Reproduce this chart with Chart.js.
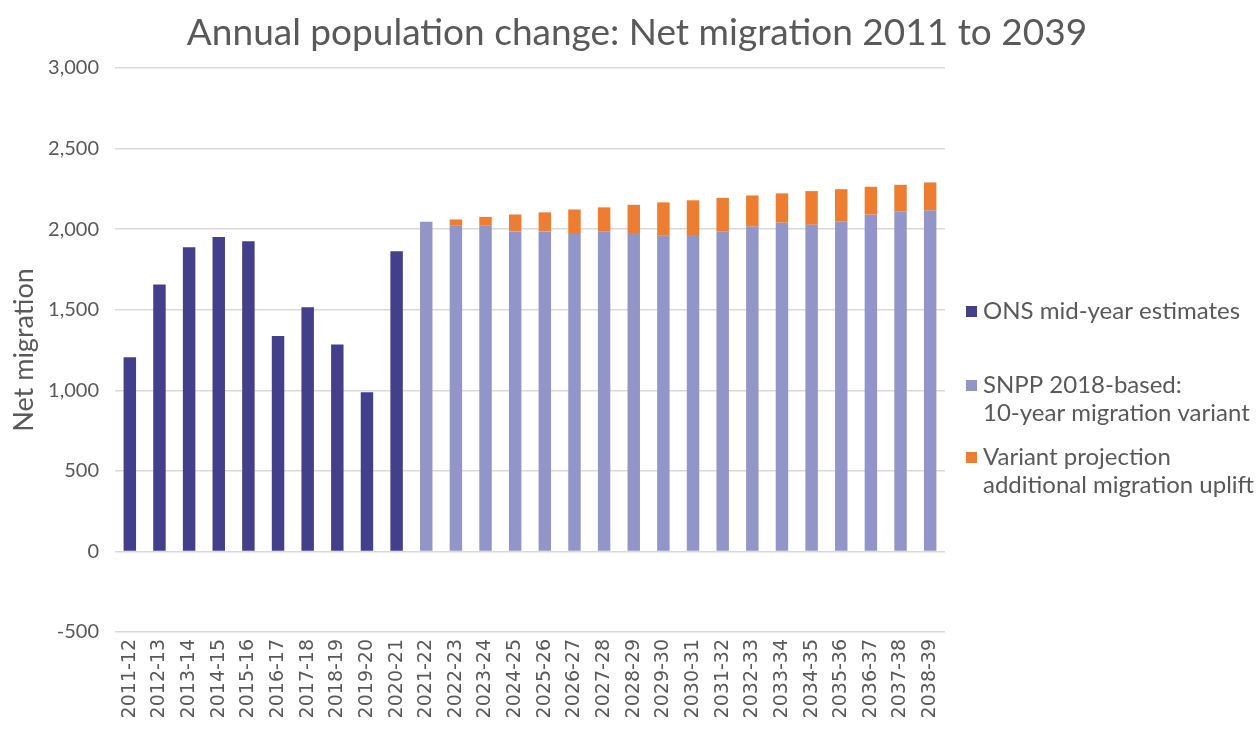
<!DOCTYPE html>
<html>
<head>
<meta charset="utf-8">
<title>Annual population change: Net migration 2011 to 2039</title>
<script src="https://cdn.jsdelivr.net/npm/chart.js@4.4.1/dist/chart.umd.min.js"></script>
<style>
    html, body { margin: 0; padding: 0; background: #ffffff; }
    #wrap { width: 1256px; height: 729px; position: relative; }
</style>
</head>
<body>
<div id="wrap"><canvas id="migrationChart"></canvas></div>
<script>
/* Net migration: ONS estimates, SNPP 10-year variant and variant uplift */

const years = [
    '2011-12', '2012-13', '2013-14', '2014-15', '2015-16', '2016-17', '2017-18',
    '2018-19', '2019-20', '2020-21', '2021-22', '2022-23', '2023-24', '2024-25',
    '2025-26', '2026-27', '2027-28', '2028-29', '2029-30', '2030-31', '2031-32',
    '2032-33', '2033-34', '2034-35', '2035-36', '2036-37', '2037-38', '2038-39'
];

// ONS mid-year estimates (2011-12 to 2020-21)
const onsEstimates = [1205, 1656, 1888, 1952, 1925, 1337, 1515, 1284, 988, 1863,
    null, null, null, null, null, null, null, null, null, null, null, null, null, null, null, null, null, null];

// SNPP 2018-based 10-year migration variant (2021-22 onwards)
const snppVariant = [null, null, null, null, null, null, null, null, null, null,
    2046, 2021, 2021, 1986, 1986, 1976, 1984, 1976, 1959, 1963, 1984, 2015, 2040, 2027, 2046, 2090, 2109, 2115];

// additional migration uplift on top of the SNPP variant
const migrationUplift = [null, null, null, null, null, null, null, null, null, null,
    null, 39, 55, 105, 118, 146, 151, 175, 207, 216, 210, 194, 182, 209, 202, 173, 166, 175];

const yTicks = { min: -500, max: 3000, step: 500 };

const colors = {
    ons: '#433F8B',
    snpp: '#9195C8',
    uplift: '#ED7D31',
    text: '#595959',
    grid: '#D9D9D9'
};

const fontFamily = "Lato, 'Open Sans', sans-serif";
const tickFontFamily = "'DejaVu Sans', 'Liberation Sans', sans-serif";

const legendItems = [
    { color: colors.ons, lines: ['ONS mid-year estimates'], y: 311 },
    { color: colors.snpp, lines: ['SNPP 2018-based:', '10-year migration variant'], y: 385 },
    { color: colors.uplift, lines: ['Variant projection', 'additional migration uplift'], y: 457 }
];

// title + side legend, drawn straight onto the canvas
const decorPlugin = {
    id: 'decor',
    afterDraw(chart) {
        const ctx = chart.ctx;
        ctx.save();
        ctx.fillStyle = colors.text;
        ctx.textBaseline = 'middle';
        ctx.textAlign = 'center';
        ctx.font = `37px ${fontFamily}`;
        ctx.fillText('Annual population change: Net migration 2011 to 2039', 637, 33);

        ctx.textAlign = 'left';
        ctx.font = `24px ${fontFamily}`;
        legendItems.forEach(item => {
            ctx.fillStyle = item.color;
            ctx.fillRect(966, item.y - 5, 11, 11);
            ctx.fillStyle = colors.text;
            item.lines.forEach((line, i) => {
                ctx.fillText(line, 983, item.y + i * 28);
            });
        });
        ctx.restore();
    }
};

const barStyle = {
    barPercentage: 0.42,
    categoryPercentage: 1.0,
    borderWidth: 0
};

const ctx = document.getElementById('migrationChart').getContext('2d');

new Chart(ctx, {
    type: 'bar',
    data: {
        labels: years,
        datasets: [
            { label: 'ONS mid-year estimates', data: onsEstimates, backgroundColor: colors.ons, ...barStyle },
            { label: 'SNPP 2018-based: 10-year migration variant', data: snppVariant, backgroundColor: colors.snpp, ...barStyle },
            { label: 'Variant projection additional migration uplift', data: migrationUplift, backgroundColor: colors.uplift, ...barStyle }
        ]
    },
    options: {
        responsive: true,
        maintainAspectRatio: false,
        animation: false,
        layout: {
            padding: { top: 68, right: 311, left: 0, bottom: 0 }
        },
        plugins: {
            legend: { display: false },
            title: { display: false },
            tooltip: { enabled: false }
        },
        scales: {
            x: {
                stacked: true,
                grid: { display: false, drawTicks: false },
                border: { display: false },
                ticks: {
                    color: colors.text,
                    font: { family: tickFontFamily, size: 19 },
                    autoSkip: false,
                    minRotation: 90,
                    maxRotation: 90,
                    padding: 7
                },
                afterFit(scale) { scale.height = 97; }
            },
            y: {
                stacked: true,
                min: yTicks.min,
                max: yTicks.max,
                grid: { color: colors.grid, lineWidth: 1.5, drawTicks: false },
                border: { display: false },
                ticks: {
                    stepSize: yTicks.step,
                    color: colors.text,
                    font: { family: fontFamily, size: 20 },
                    padding: 16
                },
                title: {
                    display: true,
                    text: 'Net migration',
                    color: colors.text,
                    font: { family: fontFamily, size: 27 },
                    padding: { top: 8, bottom: 0 }
                },
                afterFit(scale) { scale.width = 115; }
            }
        }
    },
    plugins: [decorPlugin]
});
</script>
</body>
</html>
